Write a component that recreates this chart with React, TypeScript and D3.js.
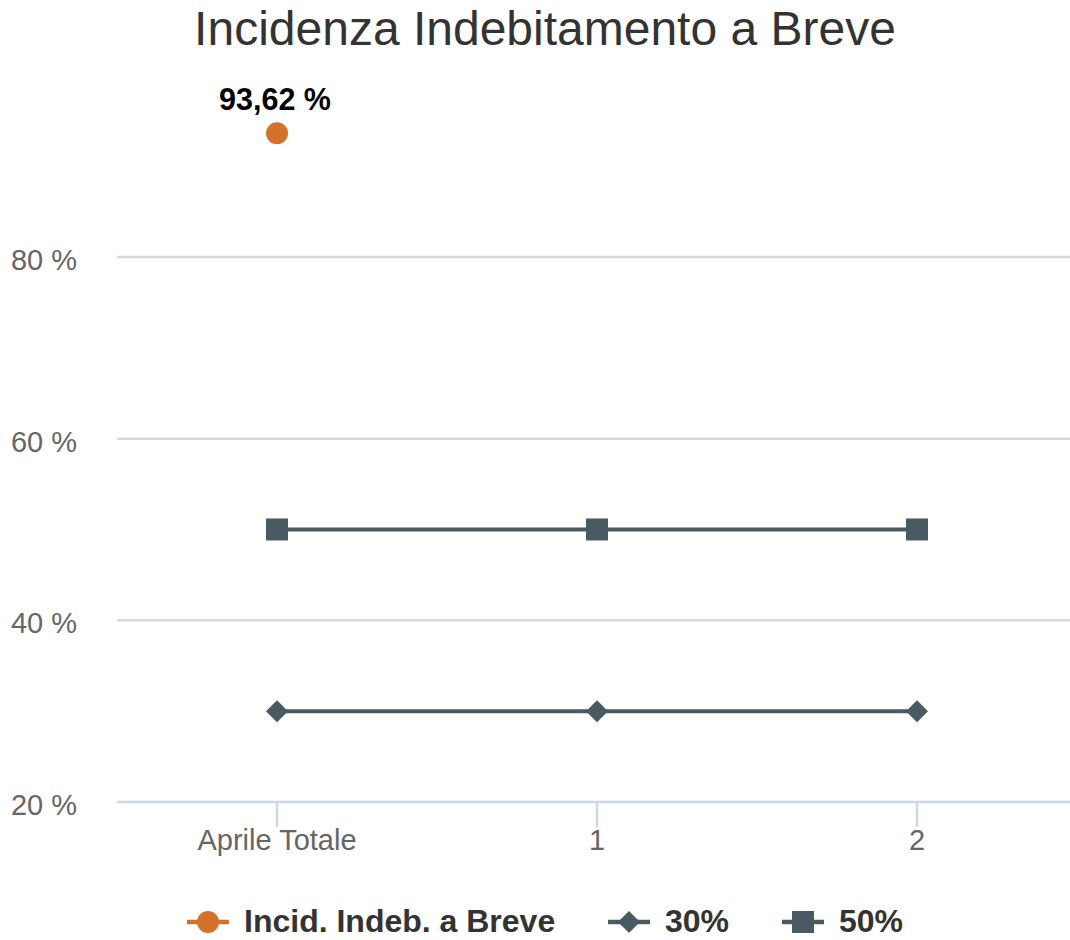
import React, { useEffect, useRef } from 'react';
import * as d3 from 'd3';

const categories = ['Aprile Totale', '1', '2'];
const incidenza: (number | null)[] = [93.62, null, null];
const soglia30 = [30, 30, 30];
const soglia50 = [50, 50, 50];
const yTicks = [20, 40, 60, 80];
const legendNames = ['Incid. Indeb. a Breve', '30%', '50%'];

const W = 1070;
const H = 940;
const ORANGE = '#d4722c';
const SLATE = '#4a5a63';
const FONT = '"Liberation Sans", Arial, Helvetica, sans-serif';

const App = () => {
  const ref = useRef<SVGSVGElement>(null);

  useEffect(() => {
    const svg = d3.select(ref.current);
    svg.selectAll('*').remove();

    const x = d3.scalePoint<string>().domain(categories).range([117, 1077]).padding(0.5);
    const y = d3.scaleLinear().domain([20, 100]).range([802, 75.3]);

    // title
    svg.append('text')
      .attr('x', 545).attr('y', 45)
      .attr('text-anchor', 'middle')
      .attr('font-size', 48).attr('fill', '#333333')
      .text('Incidenza Indebitamento a Breve');

    // grid
    svg.selectAll('line.grid').data(yTicks.filter(t => t !== 20)).enter()
      .append('line').attr('class', 'grid')
      .attr('x1', 117).attr('x2', 1077)
      .attr('y1', d => y(d)).attr('y2', d => y(d))
      .attr('stroke', '#d8d8d8').attr('stroke-width', 2.5);

    svg.selectAll('text.ylab').data(yTicks).enter()
      .append('text').attr('class', 'ylab')
      .attr('x', 77).attr('y', d => y(d) + 13)
      .attr('text-anchor', 'end')
      .attr('font-size', 29).attr('fill', '#666666')
      .text(d => `${d} %`);

    // x axis
    svg.append('line')
      .attr('x1', 117).attr('x2', 1077).attr('y1', 802).attr('y2', 802)
      .attr('stroke', '#ccd6eb').attr('stroke-width', 2.5);
    svg.selectAll('line.tick').data(categories).enter()
      .append('line').attr('class', 'tick')
      .attr('x1', d => x(d)!).attr('x2', d => x(d)!)
      .attr('y1', 802).attr('y2', 827)
      .attr('stroke', '#ccd6eb').attr('stroke-width', 2.5);
    svg.selectAll('text.xlab').data(categories).enter()
      .append('text').attr('class', 'xlab')
      .attr('x', d => x(d)!).attr('y', 850)
      .attr('text-anchor', 'middle')
      .attr('font-size', 29).attr('fill', '#666666')
      .text(d => d);

    const line = d3.line<number | null>()
      .defined(d => d != null)
      .x((_, i) => x(categories[i])!)
      .y(d => y(d as number));

    // 30% series
    svg.append('path').datum(soglia30)
      .attr('d', line).attr('fill', 'none')
      .attr('stroke', SLATE).attr('stroke-width', 4);
    svg.selectAll('path.diamond').data(soglia30).enter()
      .append('path').attr('class', 'diamond')
      .attr('d', (d, i) => {
        const cx = x(categories[i])!;
        const cy = y(d);
        return `M${cx},${cy - 11}L${cx + 11},${cy}L${cx},${cy + 11}L${cx - 11},${cy}Z`;
      })
      .attr('fill', SLATE);

    // 50% series
    svg.append('path').datum(soglia50)
      .attr('d', line).attr('fill', 'none')
      .attr('stroke', SLATE).attr('stroke-width', 4);
    svg.selectAll('rect.square').data(soglia50).enter()
      .append('rect').attr('class', 'square')
      .attr('x', (_, i) => x(categories[i])! - 11)
      .attr('y', d => y(d) - 11)
      .attr('width', 22).attr('height', 22)
      .attr('fill', SLATE);

    // incidenza
    const pts = incidenza.map((v, i) => ({ v, c: categories[i] })).filter(p => p.v != null);
    svg.append('path').datum(incidenza)
      .attr('d', line).attr('fill', 'none')
      .attr('stroke', ORANGE).attr('stroke-width', 4);
    svg.selectAll('circle.pt').data(pts).enter()
      .append('circle').attr('class', 'pt')
      .attr('cx', d => x(d.c)!).attr('cy', d => y(d.v as number))
      .attr('r', 11).attr('fill', ORANGE);
    svg.selectAll('text.dl').data(pts).enter()
      .append('text').attr('class', 'dl')
      .attr('x', d => x(d.c)! - 2).attr('y', d => y(d.v as number) - 23)
      .attr('text-anchor', 'middle')
      .attr('font-size', 30.5).attr('font-weight', 'bold').attr('fill', '#000000')
      .text(d => `${(d.v as number).toFixed(2).replace('.', ',')} %`);

    // legend
    const legendX = [187, 608, 782];
    const ly = 922;
    legendNames.forEach((name, i) => {
      const g = svg.append('g').attr('transform', `translate(${legendX[i]},${ly})`);
      const color = i === 0 ? ORANGE : SLATE;
      g.append('line').attr('x1', 0).attr('x2', 42).attr('y1', 0).attr('y2', 0)
        .attr('stroke', color).attr('stroke-width', 4.5);
      if (i === 0) g.append('circle').attr('cx', 21).attr('cy', 0).attr('r', 11).attr('fill', color);
      if (i === 1) g.append('path').attr('d', 'M21,-11L32,0L21,11L10,0Z').attr('fill', color);
      if (i === 2) g.append('rect').attr('x', 10).attr('y', -11).attr('width', 22).attr('height', 22).attr('fill', color);
      g.append('text').attr('x', 57).attr('y', 10)
        .attr('font-size', 32).attr('font-weight', 'bold').attr('fill', '#333333')
        .text(name);
    });
  }, []);

  return (
    <svg
      ref={ref}
      width={W}
      height={H}
      style={{ position: 'absolute', left: 0, top: 0, background: '#fff', fontFamily: FONT }}
    />
  );
};

export default App;
